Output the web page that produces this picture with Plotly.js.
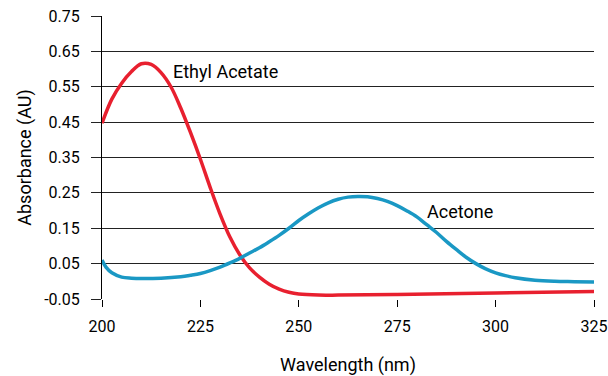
<!DOCTYPE html>
<html>
<head>
<meta charset="utf-8">
<script src="https://cdn.plot.ly/plotly-3.0.1.min.js"></script>
<style>html,body{margin:0;padding:0;background:#fff;}#chart{width:608px;height:376px;}</style>
</head>
<body>
<div id="chart"></div>
<script>
const ethylWavelength = [200,202.5,205,207.5,210,212.5,215,217.5,220,222.5,225,227.5,230,232.5,235,237.5,240,242.5,245,247.5,250,255,260,275,300,325];
const ethylAbs = [0.447,0.515,0.56,0.593,0.615,0.613,0.59,0.55,0.49,0.42,0.345,0.265,0.19,0.125,0.075,0.038,0.012,-0.008,-0.022,-0.031,-0.036,-0.039,-0.039,-0.037,-0.033,-0.029];
const acetoneWavelength = [200,201,202.5,205,207.5,210,215,220,222.5,225,227.5,230,232.5,235,237.5,240,242.5,245,247.5,250,252.5,255,257.5,260,262.5,265,267.5,270,272.5,275,277.5,280,282.5,285,287.5,290,292.5,295,297.5,300,302.5,305,310,315,320,325];
const acetoneAbs = [0.06,0.04,0.024,0.012,0.009,0.008,0.009,0.013,0.017,0.022,0.03,0.04,0.052,0.065,0.08,0.095,0.112,0.13,0.15,0.172,0.191,0.208,0.222,0.232,0.238,0.24,0.239,0.234,0.226,0.214,0.199,0.182,0.16,0.138,0.113,0.09,0.068,0.05,0.035,0.024,0.016,0.01,0.003,0.0,-0.001,-0.002];
const xTicks = [200,225,250,275,300,325];
const yTicks = [-0.05,0.05,0.15,0.25,0.35,0.45,0.55,0.65,0.75];
const seriesNames = ['Ethyl Acetate','Acetone'];

const FONT = 'Roboto, "Liberation Sans", Arial, sans-serif';

const traces = [
  {x: ethylWavelength, y: ethylAbs, mode: 'lines', name: seriesNames[0],
   line: {color: '#e8202f', width: 3.5, shape: 'spline', smoothing: 1}},
  {x: acetoneWavelength, y: acetoneAbs, mode: 'lines', name: seriesNames[1],
   line: {color: '#1a98c4', width: 3.5, shape: 'spline', smoothing: 1}}
];

const layout = {
  width: 608, height: 376,
  margin: {l: 102, r: 14, t: 16, b: 77},
  paper_bgcolor: '#fff', plot_bgcolor: '#fff',
  showlegend: false,
  font: {family: FONT, size: 18, color: '#000'},
  xaxis: {
    range: [200, 325], tickvals: xTicks, ticktext: xTicks.map(String),
    ticks: 'outside', ticklen: 7, tickcolor: '#000', tickwidth: 1,
    showgrid: false, zeroline: false, showline: false,
    ticklabelstandoff: 6, ticklabeloverflow: 'allow',
    tickfont: {family: FONT, size: 16, color: '#000'},
    title: {text: 'Wavelength (nm)', font: {family: FONT, size: 18, color: '#000'}, standoff: 25}
  },
  yaxis: {
    range: [-0.05, 0.75], tickvals: yTicks, ticktext: yTicks.map(v => v.toFixed(2)),
    ticks: 'outside', ticklen: 10, tickcolor: '#222', tickwidth: 1,
    showgrid: true, gridcolor: '#222', gridwidth: 1,
    zeroline: false, showline: true, linecolor: '#000', linewidth: 1,
    ticklabelstandoff: 8,
    tickfont: {family: FONT, size: 16, color: '#000'},
    title: {text: 'Absorbance (AU)', font: {family: FONT, size: 18, color: '#000'}, standoff: 7}
  },
  annotations: [
    {x: 217.6, y: 0.593, xref: 'x', yref: 'y', text: seriesNames[0], showarrow: false,
     xanchor: 'left', yanchor: 'middle', font: {family: FONT, size: 18, color: '#000'}},
    {x: 282, y: 0.196, xref: 'x', yref: 'y', text: seriesNames[1], showarrow: false,
     xanchor: 'left', yanchor: 'middle', font: {family: FONT, size: 18, color: '#000'}}
  ]
};

Plotly.newPlot('chart', traces, layout, {displayModeBar: false, staticPlot: true});
</script>
</body>
</html>
